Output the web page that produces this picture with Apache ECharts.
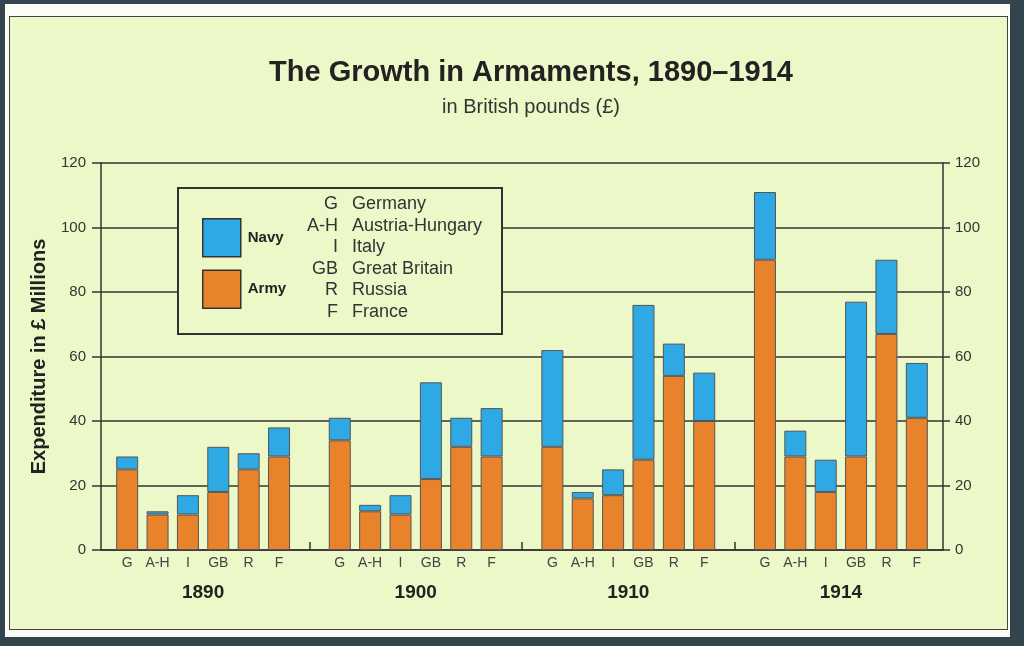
<!DOCTYPE html>
<html>
<head>
<meta charset="utf-8">
<title>The Growth in Armaments, 1890-1914</title>
<script src="https://cdn.jsdelivr.net/npm/echarts@6/dist/echarts.min.js"></script>
<style>
  html, body { margin: 0; padding: 0; width: 1024px; height: 646px; background: #34444f; overflow: hidden; }
  #paper { position: absolute; left: 5px; top: 4px; width: 1005px; height: 633px; background: #fbfcf6; }
  #panel { position: absolute; left: 9px; top: 16px; width: 997px; height: 612px; background: #edf8c8; border: 1.5px solid #444; }
  #chart { position: absolute; left: 0; top: 0; width: 1024px; height: 646px; }
</style>
</head>
<body>
<div id="paper"></div>
<div id="panel"></div>
<div id="chart"></div>
<script>
  // 国家缩写及全称
  const countries = ['G', 'A-H', 'I', 'GB', 'R', 'F'];
  const countryNames = ['Germany', 'Austria-Hungary', 'Italy', 'Great Britain', 'Russia', 'France'];
  const years = ['1890', '1900', '1910', '1914'];

  // 陆军开支（£ 百万）
  const army1890 = [25, 11, 11, 18, 25, 29];
  const army1900 = [34, 12, 11, 22, 32, 29];
  const army1910 = [32, 16, 17, 28, 54, 40];
  const army1914 = [90, 29, 18, 29, 67, 41];

  // 海军开支（£ 百万）
  const navy1890 = [4, 1, 6, 14, 5, 9];
  const navy1900 = [7, 2, 6, 30, 9, 15];
  const navy1910 = [30, 2, 8, 48, 10, 15];
  const navy1914 = [21, 8, 10, 48, 23, 17];

  const armyByYear = [army1890, army1900, army1910, army1914];
  const navyByYear = [navy1890, navy1900, navy1910, navy1914];

  const BG = '#edf8c8';
  const INK = '#333';
  const FONT = '"Liberation Sans", Arial, sans-serif';

  // 每组之间留一个空类目
  const categories = [];
  const armyData = [];
  const navyData = [];
  years.forEach((year, i) => {
    countries.forEach((c, j) => {
      categories.push(c);
      armyData.push(armyByYear[i][j]);
      navyData.push(navyByYear[i][j]);
    });
    if (i < years.length - 1) {
      categories.push('');
      armyData.push('-');
      navyData.push('-');
    }
  });

  // 图例框中的国家说明
  const keyGraphics = [];
  countries.forEach((c, i) => {
    keyGraphics.push({
      type: 'text', x: 338, y: 204 + i * 21.6, z: 10,
      style: { text: c, fill: INK, font: '18px ' + FONT, align: 'right', verticalAlign: 'middle' }
    });
    keyGraphics.push({
      type: 'text', x: 352, y: 204 + i * 21.6, z: 10,
      style: { text: countryNames[i], fill: INK, font: '18px ' + FONT, align: 'left', verticalAlign: 'middle' }
    });
  });

  const chart = echarts.init(document.getElementById('chart'));

  const valueAxisBase = {
    type: 'value', min: 0, max: 120, interval: 20
  };

  const option = {
    animation: false,
    textStyle: { fontFamily: FONT },
    title: {
      text: 'The Growth in Armaments, 1890–1914',
      subtext: 'in British pounds (£)',
      left: 526, top: 53, textAlign: 'center', itemGap: 10,
      textStyle: { fontSize: 29, fontWeight: 'bold', color: '#222', fontFamily: FONT },
      subtextStyle: { fontSize: 20, color: INK, fontFamily: FONT }
    },
    legend: {
      data: ['Navy', 'Army'],
      orient: 'vertical',
      left: 197, top: 213,
      itemWidth: 38, itemHeight: 38, itemGap: 12,
      icon: 'rect',
      z: 12,
      selectedMode: false,
      itemStyle: { borderColor: INK, borderWidth: 1.5 },
      textStyle: { fontSize: 15, fontWeight: 'bold', color: '#222', padding: [0, 0, 0, 2] }
    },
    graphic: [
      {
        type: 'rect', z: 8,
        shape: { x: 178, y: 188, width: 324, height: 146 },
        style: { fill: BG, stroke: INK, lineWidth: 2 }
      }
    ].concat(keyGraphics),
    grid: [
      // 坐标框（左右 y 轴、网格线）
      { left: 101, right: 81, top: 163, bottom: 96 },
      // 柱子
      { left: 112, right: 92, top: 163, bottom: 96 },
      // 年份标签
      { left: 96.8, right: 76.8, top: 163, bottom: 96 }
    ],
    xAxis: [
      {
        gridIndex: 0, type: 'value', min: 0, max: 1,
        axisLine: { show: true, lineStyle: { color: INK, width: 1.5 } },
        axisTick: { show: false }, axisLabel: { show: false }, splitLine: { show: false }
      },
      {
        gridIndex: 1, type: 'category', data: categories,
        axisLine: { show: false },
        axisTick: {
          show: true, inside: true, length: 8, alignWithLabel: true,
          interval: (index, value) => value === '',
          lineStyle: { color: INK, width: 1.5 }
        },
        axisLabel: { interval: 0, margin: 6, fontSize: 14, color: '#444' }
      },
      {
        gridIndex: 2, type: 'category', data: years,
        axisLine: { show: false }, axisTick: { show: false },
        axisLabel: { margin: 33, fontSize: 19, fontWeight: 'bold', color: '#222' }
      }
    ],
    yAxis: [
      {
        ...valueAxisBase, gridIndex: 0, position: 'left',
        name: 'Expenditure in £ Millions', nameLocation: 'middle', nameGap: 52,
        nameTextStyle: { fontSize: 20, fontWeight: 'bold', color: '#222' },
        axisLine: { show: true, lineStyle: { color: INK, width: 1.5 } },
        axisTick: { show: true, length: 9, lineStyle: { color: INK, width: 1.5 } },
        axisLabel: { fontSize: 15, color: INK, margin: 15 },
        splitLine: { show: true, lineStyle: { color: INK, width: 1.5 } }
      },
      {
        ...valueAxisBase, gridIndex: 0, position: 'right',
        axisLine: { show: true, lineStyle: { color: INK, width: 1.5 } },
        axisTick: { show: true, length: 7, lineStyle: { color: INK, width: 1.5 } },
        axisLabel: { fontSize: 15, color: INK, margin: 12 },
        splitLine: { show: false }
      },
      { ...valueAxisBase, gridIndex: 1, show: false, splitLine: { show: false } },
      { ...valueAxisBase, gridIndex: 2, show: false, splitLine: { show: false } }
    ],
    series: [
      {
        name: 'Army', type: 'bar', stack: 'total',
        xAxisIndex: 1, yAxisIndex: 2, barWidth: 22, z: 5,
        itemStyle: { color: '#e9832b', borderColor: '#555', borderWidth: 1 },
        data: armyData
      },
      {
        name: 'Navy', type: 'bar', stack: 'total',
        xAxisIndex: 1, yAxisIndex: 2, barWidth: 22, z: 5,
        itemStyle: { color: '#2ea9e3', borderColor: '#555', borderWidth: 1 },
        data: navyData
      }
    ]
  };

  chart.setOption(option);
</script>
</body>
</html>
